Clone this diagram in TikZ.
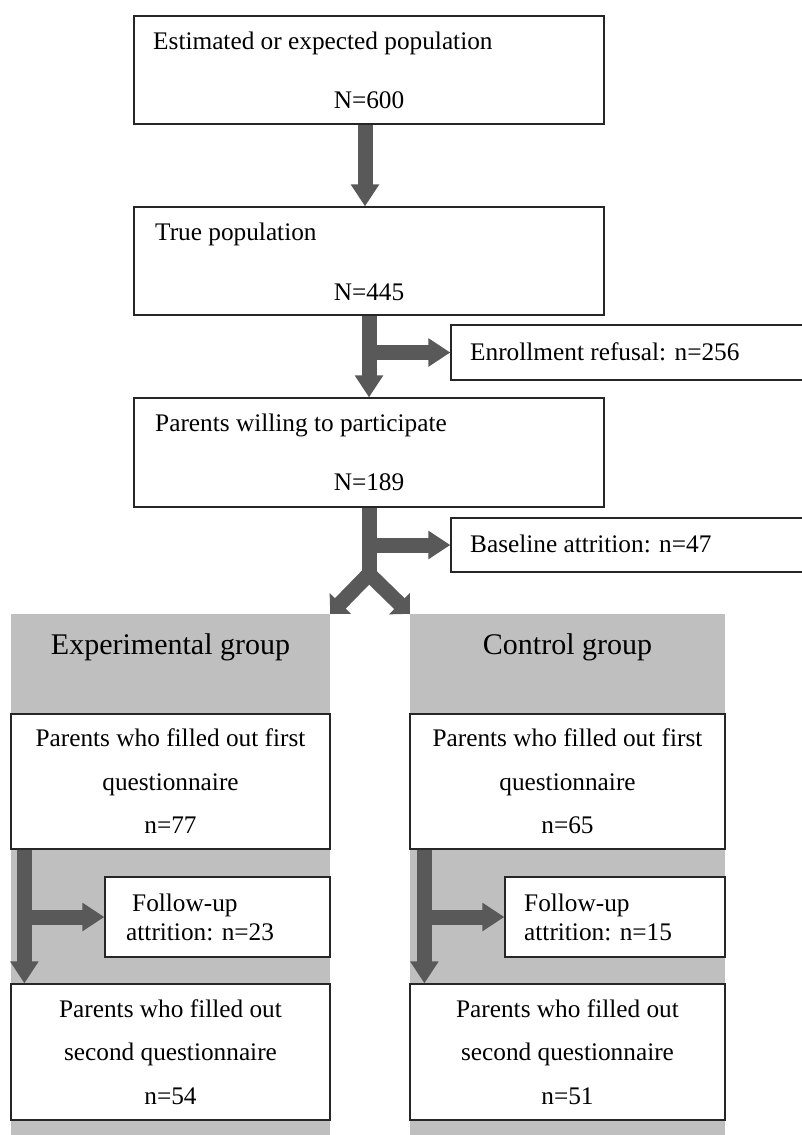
\documentclass[tikz,border=0pt]{standalone}
\usepackage{fontspec}
\setmainfont{Liberation Serif}
\usetikzlibrary{arrows.meta}
\definecolor{arrowgray}{HTML}{595959}
\definecolor{panelgray}{HTML}{BFBFBF}
\definecolor{boxline}{HTML}{262626}
\begin{document}
\begin{tikzpicture}[x=1pt,y=-1pt,
  box/.style={draw=boxline, line width=1.2pt, fill=white, inner sep=0pt, rectangle},
  panel/.style={fill=panelgray, draw=none, inner sep=0pt, rectangle},
  fat/.style={draw=arrowgray, line width=15pt, -{Triangle[width=27pt,length=22pt]}},
  fatdiag/.style={draw=arrowgray, line width=15pt, -{Triangle[width=29pt,length=14.5pt]}},
  fatline/.style={draw=arrowgray, line width=15pt},
  txt/.style={font=\fontsize{25.3}{30}\selectfont, inner sep=0pt},
  ctxt/.style={font=\fontsize{25.3}{43.5}\selectfont, align=center},
  head/.style={font=\fontsize{30}{36}\selectfont, inner sep=0pt}]
\useasboundingbox (0,0) rectangle (801,1135);

% top boxes
\node[box, minimum width=470pt, minimum height=108pt] (b1) at (369,70) {};
\node[box, minimum width=470pt, minimum height=108pt] (b2) at (369,261) {};
\node[box, minimum width=470pt, minimum height=109pt] (b3) at (369,452.5) {};
\node[box, minimum width=380pt, minimum height=55pt] (ref) at (641,352.5) {};
\node[box, minimum width=380pt, minimum height=54pt] (base) at (641,545) {};

\node[txt, anchor=base west] (t1) at (153,49.5) {Estimated or expected population};
\node[txt, anchor=base] (n1) at (369,108) {N=600};
\node[txt, anchor=base west] (t2) at (155,240) {True population};
\node[txt, anchor=base] (n2) at (369,300) {N=445};
\node[txt, anchor=base west] (t3) at (155,431) {Parents willing to participate};
\node[txt, anchor=base] (n3) at (369,490) {N=189};
\node[txt, anchor=base west] (tr) at (470,360) {Enrollment refusal: n=256};
\node[txt, anchor=base west] (tb) at (470,552) {Baseline attrition: n=47};

% panels
\node[panel, minimum width=319pt, minimum height=526pt] (exp) at (170.5,877) {};
\node[panel, minimum width=315pt, minimum height=526pt] (ctrl) at (567.5,877) {};
\node[head, anchor=base] (hexp) at (170.5,654) {Experimental group};
\node[head, anchor=base] (hctrl) at (567.5,654) {Control group};

% experimental boxes
\node[box, minimum width=319pt, minimum height=135pt, ctxt, inner sep=0pt] (e1) at (170.5,781.5)
  {Parents who filled out first\\questionnaire\\n=77};
\node[box, minimum width=225pt, minimum height=80pt] (e2) at (217.5,917) {};
\node[txt, anchor=base west] (e2a) at (132,911) {Follow-up};
\node[txt, anchor=base west] (e2b) at (126,940) {attrition: n=23};
\node[box, minimum width=319pt, minimum height=136pt, ctxt, inner sep=0pt] (e3) at (170.5,1052)
  {Parents who filled out\\second questionnaire\\n=54};

% control boxes
\node[box, minimum width=315pt, minimum height=135pt, ctxt, inner sep=0pt] (c1) at (567.5,781.5)
  {Parents who filled out first\\questionnaire\\n=65};
\node[box, minimum width=220pt, minimum height=80pt] (c2) at (615,917) {};
\node[txt, anchor=base west] (c2a) at (524,911) {Follow-up};
\node[txt, anchor=base west] (c2b) at (524,940) {attrition: n=15};
\node[box, minimum width=315pt, minimum height=136pt, ctxt, inner sep=0pt] (c3) at (567.5,1052)
  {Parents who filled out\\second questionnaire\\n=51};

% arrows top
\draw[fat] ([xshift=-4pt]b1.south) -- ([xshift=-4pt]b2.north);
\draw[fat] (b2.south) -- (b3.north);
\draw[fat] (b2.south |- ref.west) -- (ref.west);
\coordinate (split) at (369,574);
\draw[fatline] (b3.south) -- (369,580);
\draw[fatdiag] (split) -- (exp.north east);
\draw[fatdiag] (split) -- (ctrl.north west);
\draw[fat] (b3.south |- base.west) -- (base.west);

% arrows experimental
\coordinate (eL) at ([xshift=14pt]e1.south west);
\coordinate (eE) at ([xshift=14pt]e3.north west);
\draw[fat] (eL) -- (eE);
\draw[fat] (eL |- e2.west) -- (e2.west);

% arrows control
\coordinate (cL) at ([xshift=15pt]c1.south west);
\coordinate (cE) at ([xshift=15pt]c3.north west);
\draw[fat] (cL) -- (cE);
\draw[fat] (cL |- c2.west) -- (c2.west);
\end{tikzpicture}
\end{document}
